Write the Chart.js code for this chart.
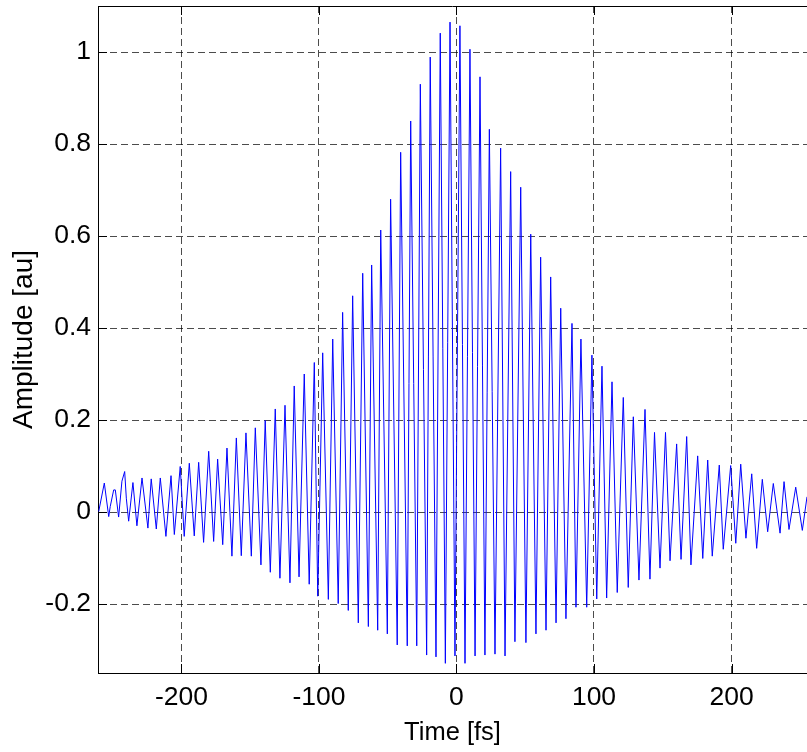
<!DOCTYPE html>
<html><head><meta charset="utf-8">
<script src="https://cdn.jsdelivr.net/npm/chart.js@4.4.0/dist/chart.umd.min.js"></script>
<style>html,body{margin:0;padding:0;background:#fff;overflow:hidden}canvas{display:block}</style>
</head><body>
<canvas id="c" width="807" height="752"></canvas>
<script>
const timeFs = [
-260.2,-256.1,-252.9,-251.8,-249.3,-248.1,-245.7,-243.3,-241.3,-240.1,-238.4,-235.3,-232.4,-228.7,-224.4,-222.0,
-218.3,-215.4,-211.3,-207.6,-205.2,-200.9,-198.0,-194.3,-190.7,-187.5,-183.9,-180.2,-176.6,-173.7,-170.0,-166.9,
-163.3,-160.1,-156.5,-153.1,-149.2,-146.3,-142.2,-139.1,-135.4,-131.8,-128.4,-124.7,-121.1,-118.0,-114.5,-110.7,
-107.1,-103.4,-100.9,-97.3,-93.2,-90.0,-86.0,-82.8,-78.7,-75.5,-71.4,-68.2,-64.1,-61.7,-57.3,-55.1,
-50.3,-47.9,-43.1,-40.6,-35.8,-33.3,-28.9,-26.3,-21.7,-19.1,-14.9,-11.8,-8.1,-4.7,-1.1,2.5,
6.2,9.8,13.5,17.1,20.7,23.9,28.0,32.1,35.3,39.4,42.5,46.7,50.5,54.0,57.8,61.2,
65.1,68.5,72.4,75.8,79.6,84.0,86.9,90.5,94.7,98.5,102.0,105.8,109.2,113.1,116.9,121.3,
124.9,128.6,132.7,137.1,140.7,144.0,148.0,152.0,155.3,160.1,163.3,167.4,170.5,175.4,179.1,182.7,
186.0,191.1,194.0,199.4,203.1,206.7,210.5,214.7,218.3,222.4,226.3,230.4,235.3,238.2,241.8,246.7,
251.5,254.9
];
const amplitude = [
0.001,0.063,-0.010,0.012,0.048,0.048,-0.011,0.067,0.088,0.030,-0.020,0.064,-0.030,0.074,-0.035,0.072,
-0.037,0.074,-0.053,0.079,-0.049,0.099,-0.053,0.106,-0.052,0.108,-0.066,0.132,-0.064,0.115,-0.071,0.139,
-0.096,0.161,-0.095,0.172,-0.096,0.183,-0.115,0.199,-0.131,0.224,-0.144,0.232,-0.154,0.274,-0.141,0.300,
-0.157,0.325,-0.183,0.346,-0.190,0.376,-0.199,0.434,-0.214,0.470,-0.241,0.519,-0.249,0.537,-0.257,0.613,
-0.265,0.680,-0.289,0.782,-0.291,0.850,-0.291,0.930,-0.311,0.989,-0.315,1.041,-0.329,1.065,-0.313,1.057,
-0.329,1.006,-0.313,0.946,-0.311,0.832,-0.309,0.791,-0.313,0.740,-0.282,0.706,-0.284,0.604,-0.265,0.554,
-0.257,0.511,-0.241,0.443,-0.232,0.410,-0.207,0.376,-0.207,0.341,-0.189,0.317,-0.187,0.283,-0.175,0.249,
-0.164,0.207,-0.148,0.223,-0.146,0.173,-0.122,0.173,-0.106,0.148,-0.103,0.164,-0.115,0.122,-0.101,0.113,
-0.096,0.102,-0.081,0.101,-0.068,0.104,-0.057,0.083,-0.079,0.071,-0.043,0.062,-0.046,0.066,-0.038,0.054,
-0.040,0.033
];
const xTickValues = [-200, -100, 0, 100, 200];
const xTickLabels = ['-200', '-100', '0', '100', '200'];
const yTickValues = [-0.2, 0, 0.2, 0.4, 0.6, 0.8, 1];
const yTickLabels = ['-0.2', '0', '0.2', '0.4', '0.6', '0.8', '1'];
const xLimits = [-260.7, 254.9];
const yLimits = [-0.35, 1.1];
const xTitle = 'Time [fs]';
const yTitle = 'Amplitude [au]';

const FONT = "'Liberation Sans', Arial, Helvetica, sans-serif";

const innerTicks = {
  id: 'innerTicks',
  afterDraw(chart) {
    const {ctx, chartArea: a, scales: {x, y}} = chart;
    ctx.save();
    ctx.strokeStyle = '#000';
    ctx.lineWidth = 1;
    ctx.setLineDash([]);
    ctx.beginPath();
    ctx.moveTo(a.left, Math.round(a.top) + 0.5);
    ctx.lineTo(a.right, Math.round(a.top) + 0.5);
    xTickValues.forEach(v => {
      const px = Math.round(x.getPixelForValue(v)) + 0.5;
      ctx.moveTo(px, a.bottom); ctx.lineTo(px, a.bottom - 9);
      ctx.moveTo(px, a.top); ctx.lineTo(px, a.top + 9);
    });
    yTickValues.forEach(v => {
      const py = Math.round(y.getPixelForValue(v)) + 0.5;
      ctx.moveTo(a.left, py); ctx.lineTo(a.left + 9, py);
    });
    ctx.stroke();
    ctx.restore();
  }
};

new Chart(document.getElementById('c'), {
  type: 'line',
  data: {
    datasets: [{
      data: timeFs.map((t, i) => ({x: t, y: amplitude[i]})),
      borderColor: '#0000ff',
      borderWidth: 1,
      pointRadius: 0,
      tension: 0,
      fill: false
    }]
  },
  options: {
    responsive: false,
    animation: false,
    devicePixelRatio: 1,
    layout: {padding: {top: 6, left: 0, right: 0, bottom: 0}},
    plugins: {legend: {display: false}, tooltip: {enabled: false}},
    scales: {
      x: {
        type: 'linear',
        min: xLimits[0], max: xLimits[1],
        afterBuildTicks: s => { s.ticks = xTickValues.map(v => ({value: v})); },
        afterFit: s => { s.height = 79; s.paddingLeft = 0; s.paddingRight = 0; },
        ticks: {
          callback: (v, i) => xTickLabels[i],
          font: {family: FONT, size: 26.5},
          color: '#000',
          padding: 9,
          maxRotation: 0,
          autoSkip: false
        },
        grid: {color: 'rgba(0,0,0,0.7)', lineWidth: 1, drawTicks: false},
        border: {display: true, color: '#000', width: 1, dash: [7, 4]},
        title: {display: true, text: xTitle, font: {family: FONT, size: 25.5}, color: '#000', padding: {top: 0, bottom: 4}}
      },
      y: {
        type: 'linear',
        min: yLimits[0], max: yLimits[1],
        afterBuildTicks: s => { s.ticks = yTickValues.map(v => ({value: v})); },
        afterFit: s => { s.width = 98; s.paddingTop = 0; s.paddingBottom = 0; },
        ticks: {
          callback: (v, i) => yTickLabels[i],
          font: {family: FONT, size: 26.5},
          color: '#000',
          padding: 7,
          autoSkip: false
        },
        grid: {color: 'rgba(0,0,0,0.7)', lineWidth: 1, drawTicks: false},
        border: {display: true, color: '#000', width: 1, dash: [7, 4]},
        title: {display: true, text: yTitle, font: {family: FONT, size: 28}, color: '#000', padding: {top: 7, bottom: 0}}
      }
    }
  },
  plugins: [innerTicks]
});
</script>
</body></html>
